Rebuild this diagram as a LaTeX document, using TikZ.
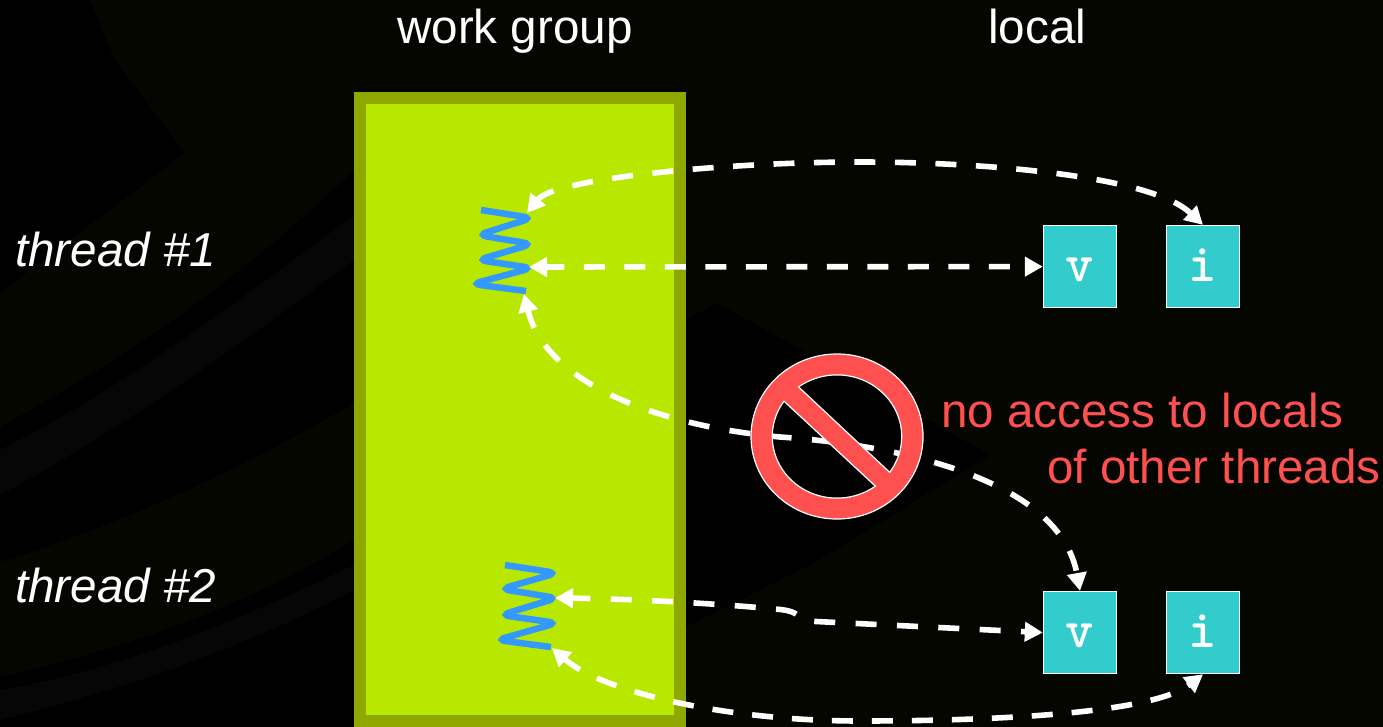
\documentclass[tikz,border=0pt]{standalone}
\usepackage{fontspec}
\setmainfont{Liberation Sans}
\usetikzlibrary{arrows.meta}
\definecolor{olivec}{HTML}{050600}
\definecolor{grayb}{HTML}{060606}
\definecolor{groupc}{HTML}{B9E800}
\definecolor{groupb}{HTML}{8FA800}
\definecolor{cellc}{HTML}{33CCCC}
\definecolor{redc}{HTML}{FF5050}
\definecolor{threadc}{HTML}{3399FF}
\tikzset{
  lbl/.style={anchor=base west,text=white,inner sep=0pt,font=\fontsize{47.6}{50}\selectfont},
  redlbl/.style={lbl,text=redc},
  cell/.style={draw=white,line width=1.4pt,fill=cellc,minimum width=73pt,minimum height=82pt,inner sep=0pt,text=white,text height=30pt,text depth=0pt,font=\ttfamily\bfseries\fontsize{54}{54}\selectfont\addfontfeatures{FakeBold=1,FakeStretch=1.12}},
  threadline/.style={draw=threadc,line width=6.5pt,rounded corners=9pt},
  link/.style={draw=white,line width=5.6pt,dash pattern=on 21pt off 19.5pt,dash phase=2.5pt,{Triangle[length=18pt,width=19pt]}-{Triangle[length=18pt,width=19pt]}},
  longlink/.style={link,dash pattern=on 21pt off 20.5pt,dash phase=2.5pt},
  kinklink/.style={link,dash pattern=on 21pt off 20.4pt,dash phase=2.5pt},
  lowlink/.style={link,dash pattern=on 21pt off 19pt,dash phase=2.5pt}
}
\begin{document}
\begin{tikzpicture}[x=1pt,y=-1pt]
\useasboundingbox (0,0) rectangle (1383,727);
\fill[black] (0,0) rectangle (1383,727);
% faint background swoops
\fill[olivec] (0,293) -- (185,153) -- (115,60) -- (90,0) -- (354,0) -- (354,170) .. controls (230,290) and (120,360) .. (0,427) -- cycle;
\fill[olivec] (0,562) .. controls (120,525) and (240,470) .. (354,403) -- (354,540) .. controls (240,610) and (120,650) .. (0,677) -- cycle;
\fill[grayb] (0,450) .. controls (120,390) and (240,300) .. (354,215) -- (354,260) .. controls (240,345) and (120,430) .. (0,495) -- cycle;
\fill[grayb] (0,690) .. controls (120,670) and (240,620) .. (354,565) -- (354,590) .. controls (240,650) and (120,690) .. (0,720) -- cycle;
\fill[olivec] (354,0) rectangle (1383,727);
\fill[black] (686,320) -- (717,303) -- (990,455) -- (819,560) -- (686,627) -- cycle;
% work group
\fill[groupb] (354,92) rectangle (686,727);
\fill[groupc] (366,104) rectangle (674,715);
\node[lbl] (wg) at (397,44) {work group};
\node[lbl] (loc) at (988,44) {local};
\node[lbl,font=\fontsize{47.6}{50}\selectfont\itshape] (th1) at (15,266) {thread \#1};
\node[lbl,font=\fontsize{47.6}{50}\selectfont\itshape] (th2) at (15,602) {thread \#2};
% cells
\node[cell] (v1) at (1080,266.6) {v};
\node[cell] (i1) at (1203,266.6) {i};
\node[cell] (v2) at (1080,632.6) {v};
\node[cell] (i2) at (1203,632.6) {i};
% threads
\draw[threadline] (481,210) -- (532,218) -- (478,235) -- (532,244) -- (478,260) -- (532,268) -- (472,284) -- (526,291);
\draw[threadline] (505,565) -- (557,573) -- (501,589) -- (557,598) -- (501,615) -- (557,623) -- (497,640) -- (551,647);
\coordinate (t1top) at (527,213);
\coordinate (t1mid) at (529,267);
\coordinate (t1bot) at (524,294);
\coordinate (t2mid) at (555,598);
\coordinate (t2bot) at (552,648);
\coordinate (m0) at (860,162);
\coordinate (m1) at (780,437);
\coordinate (m2) at (860,721);
% connectors
\draw[link] (t1top) .. controls (555,178) and (730,162) .. (m0) .. controls (980,162) and (1150,175) .. (i1.north);
\draw[link] (t1mid) -- (v1.west);
\draw[longlink] (t1bot) .. controls (545,380) and (650,425) .. (m1) .. controls (900,445) and (1060,480) .. (v2.north);
\draw[kinklink] (t2mid) .. controls (640,599) and (720,604) .. (775,609) .. controls (790,610) and (797,613) .. (800,618) -- (806,621) -- (v2.west);
\draw[lowlink] (t2bot) .. controls (600,690) and (720,721) .. (m2) .. controls (980,721) and (1150,715) .. (i2.south);
% no sign
\fill[redc,even odd rule,draw=white,line width=1.2pt] (837,436.5) ellipse [x radius=86,y radius=82.5] (837,436.5) ellipse [x radius=64.7,y radius=61.6];
\begin{scope}
\clip (837,436.5) ellipse [x radius=65.7,y radius=62.6];
\fill[redc] (788,377) -- (900,482) -- (886,496) -- (773,391) -- cycle;
\end{scope}
\begin{scope}
\clip (837,436.5) ellipse [x radius=65.2,y radius=62.1];
\draw[white,line width=1.2pt] (788,377) -- (900,482) (886,496) -- (773,391);
\end{scope}
\node[redlbl] (n1) at (941,427) {no access to locals};
\node[redlbl] (n2) at (1047,483) {of other threads};
\end{tikzpicture}
\end{document}
